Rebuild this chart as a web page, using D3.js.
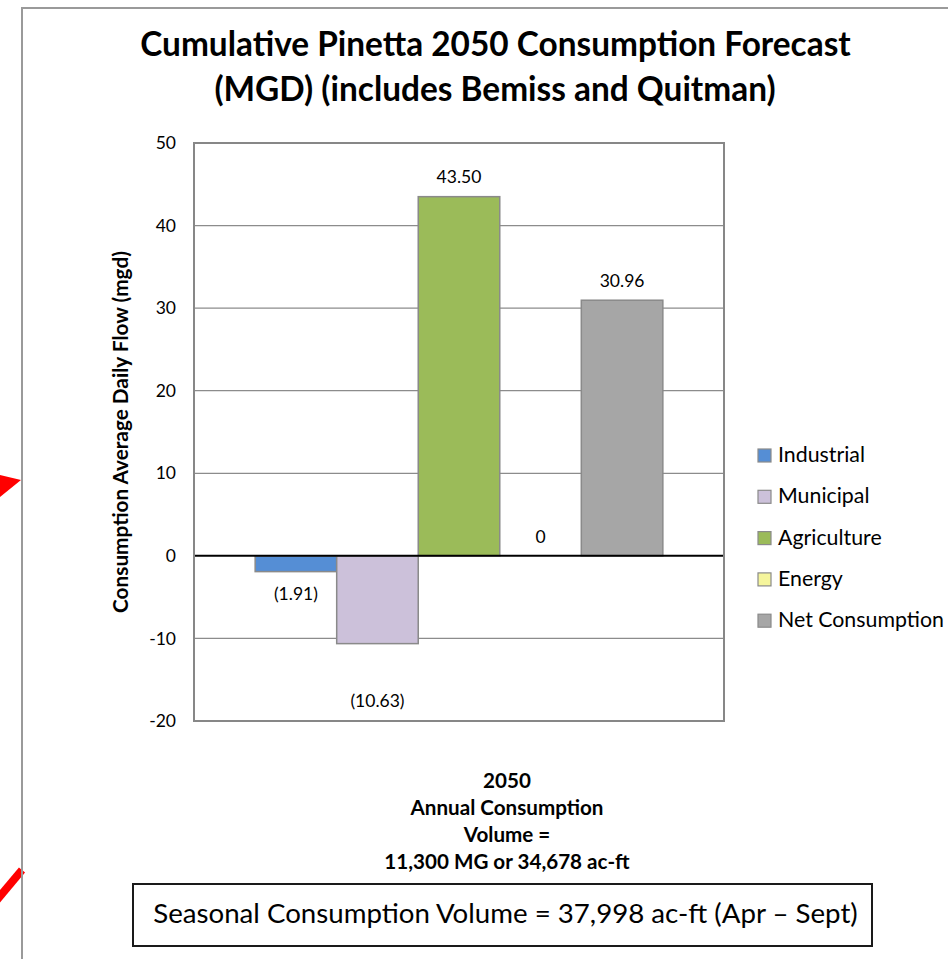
<!DOCTYPE html>
<html><head><meta charset="utf-8">
<script src="https://cdn.jsdelivr.net/npm/d3@7"></script>
<style>body{margin:0;background:#fff;overflow:hidden} svg{display:block}</style>
</head><body>
<script>
// ---- data ----
const categories = ["2050"];
const seriesNames = ["Industrial", "Municipal", "Agriculture", "Energy", "Net Consumption"];
const seriesValues = [-1.91, -10.63, 43.50, 0, 30.96];
const valueLabels = ["(1.91)", "(10.63)", "43.50", "0", "30.96"];
const seriesColors = ["#558ED5", "#CCC1DA", "#9BBB59", "#F5F59C", "#A6A6A6"];
const yTicks = [-20, -10, 0, 10, 20, 30, 40, 50];
const titleLines = ["Cumulative Pinetta 2050 Consumption Forecast", "(MGD) (includes Bemiss and Quitman)"];
const yTitle = "Consumption Average Daily Flow (mgd)";
const xTitleLines = ["2050", "Annual Consumption", "Volume =", "11,300 MG or 34,678 ac-ft"];
const boxText = "Seasonal Consumption Volume = 37,998 ac-ft (Apr \u2013 Sept)";

// ---- layout ----
const W = 948, H = 959;
const FONT = "Lato, 'Noto Sans', sans-serif";
const plot = {left: 194, right: 724, top: 143, bottom: 721};

const svg = d3.select("body").append("svg").attr("width", W).attr("height", H)
  .style("font-family", FONT);

function fit(sel, w) {
  const L = sel.node().getComputedTextLength();
  const fs = parseFloat(sel.attr("font-size"));
  const nf = fs * w / L;
  sel.attr("font-size", nf);
  return nf;
}

// red arrows on the left (partial shapes from the page)
svg.append("path").attr("d", "M0,475 L21,480 L0,497 Z").attr("fill", "#FF0000");
svg.append("line").attr("x1", -4).attr("y1", 901).attr("x2", 22).attr("y2", 870)
  .attr("stroke", "#FF0000").attr("stroke-width", 8);

// outer frame
svg.append("path").attr("d", `M22,${H} L22,8 L${W},8`).attr("fill", "none")
  .attr("stroke", "#9A9A9A").attr("stroke-width", 2);

// title
const t1 = svg.append("text").attr("x", 495.5).attr("y", 56).attr("text-anchor", "middle")
  .attr("font-weight", "bold").attr("font-size", 30).attr("fill", "#000").text(titleLines[0]);
const tfs = fit(t1, 711);
svg.append("text").attr("x", 495).attr("y", 101).attr("text-anchor", "middle")
  .attr("font-weight", "bold").attr("font-size", tfs).attr("fill", "#000").text(titleLines[1]);

// scales
const y = d3.scaleLinear().domain([-20, 50]).range([plot.bottom, plot.top]);
const x0 = d3.scaleBand().domain(categories).range([plot.left, plot.right])
  .paddingInner(0).paddingOuter(0.15);
const x1 = d3.scaleBand().domain(seriesNames).range([0, x0.bandwidth()]).padding(0);

// gridlines
svg.append("g").selectAll("line").data(yTicks.filter(d => d !== 0 && d !== 50 && d !== -20)).join("line")
  .attr("x1", plot.left).attr("x2", plot.right)
  .attr("y1", d => y(d)).attr("y2", d => y(d))
  .attr("stroke", "#8C8C8C").attr("stroke-width", 1.3);

// y axis labels
const yAxis = d3.axisLeft(y).tickValues(yTicks).tickSize(0).tickPadding(18).tickFormat(d => String(d));
const yg = svg.append("g").attr("transform", `translate(${plot.left},0)`).call(yAxis);
yg.select(".domain").remove();
yg.selectAll("text").attr("font-size", 17.5).attr("font-family", FONT).attr("fill", "#000");

// bars
const gBars = svg.append("g").attr("transform", `translate(${x0(categories[0])},0)`);
gBars.selectAll("rect").data(seriesValues).join("rect")
  .attr("x", (d, i) => x1(seriesNames[i]))
  .attr("width", x1.bandwidth())
  .attr("y", d => y(Math.max(0, d)))
  .attr("height", d => Math.abs(y(d) - y(0)))
  .attr("fill", (d, i) => seriesColors[i])
  .attr("stroke", "#8A8A8A").attr("stroke-width", 1.5);

// value labels
const labelDy = [28, 63, -14, -13, -13];
gBars.selectAll("text").data(seriesValues).join("text")
  .attr("x", (d, i) => x1(seriesNames[i]) + x1.bandwidth() / 2)
  .attr("y", (d, i) => y(d) + labelDy[i])
  .attr("text-anchor", "middle").attr("font-size", 17.5).attr("fill", "#000")
  .text((d, i) => valueLabels[i]);

// zero line
svg.append("line").attr("x1", plot.left).attr("x2", plot.right)
  .attr("y1", y(0)).attr("y2", y(0)).attr("stroke", "#000").attr("stroke-width", 2);

// plot border
svg.append("rect").attr("x", plot.left).attr("y", plot.top)
  .attr("width", plot.right - plot.left).attr("height", plot.bottom - plot.top)
  .attr("fill", "none").attr("stroke", "#878787").attr("stroke-width", 2);

// y title
const yt = svg.append("text")
  .attr("transform", `translate(128,${(plot.top + plot.bottom) / 2}) rotate(-90)`)
  .attr("text-anchor", "middle").attr("font-weight", "bold").attr("font-size", 17)
  .attr("fill", "#000").text(yTitle);
fit(yt, 362);

// legend
const leg = svg.append("g");
const legItems = leg.selectAll("g").data(seriesNames).join("g")
  .attr("transform", (d, i) => `translate(758,${449 + i * 41.3})`);
legItems.append("rect").attr("width", 13).attr("height", 13)
  .attr("fill", (d, i) => seriesColors[i]).attr("stroke", "#8A8A8A").attr("stroke-width", 1.2);
const legTexts = legItems.append("text").attr("x", 20).attr("y", 13)
  .attr("font-size", 20).attr("fill", "#000").text(d => d);
const lfs = fit(d3.select(legTexts.nodes()[4]), 166);
legTexts.attr("font-size", lfs);

// x axis title block
const xt = svg.append("g").selectAll("text").data(xTitleLines).join("text")
  .attr("x", 507).attr("y", (d, i) => 788 + i * 27)
  .attr("text-anchor", "middle").attr("font-weight", "bold").attr("font-size", 17)
  .attr("fill", "#000").text(d => d);
const xfs = fit(d3.select(xt.nodes()[1]), 193);
xt.attr("font-size", xfs);

// seasonal box
svg.append("rect").attr("x", 133).attr("y", 884).attr("width", 739).attr("height", 62)
  .attr("fill", "#fff").attr("stroke", "#1a1a1a").attr("stroke-width", 2);
const bt = svg.append("text").attr("x", 505.5).attr("y", 923).attr("text-anchor", "middle")
  .attr("font-size", 24).attr("fill", "#000").text(boxText);
fit(bt, 705);
</script>
</body></html>
